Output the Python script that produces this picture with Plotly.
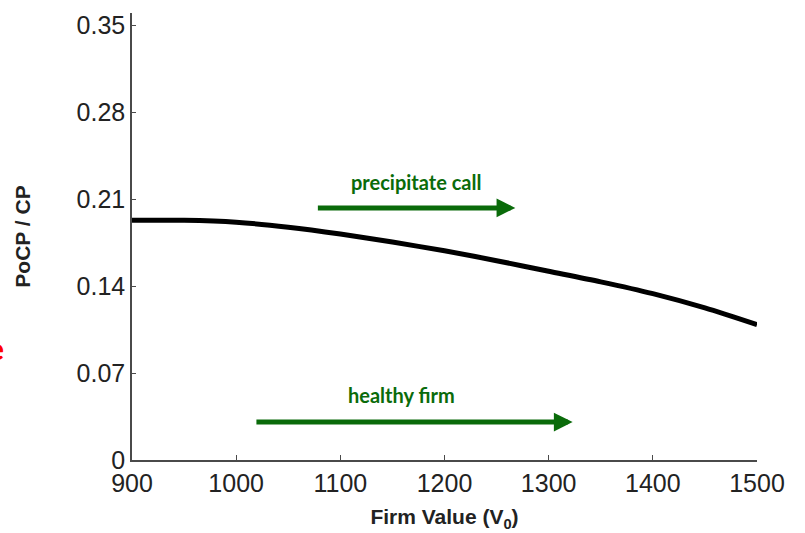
import plotly.graph_objects as go

# Data
firm_value = [900, 950, 1000, 1050, 1100, 1150, 1200, 1250, 1300, 1350, 1400, 1450, 1500]
pocp_ratio = [0.193, 0.193, 0.1915, 0.1875, 0.182, 0.1755, 0.1685, 0.1605, 0.152, 0.1435, 0.134, 0.1225, 0.109]

x_ticks = [900, 1000, 1100, 1200, 1300, 1400, 1500]
y_tick_vals = [0, 0.07, 0.14, 0.21, 0.28, 0.35]
y_tick_text = ["0", "0.07", "0.14", "0.21", "0.28", "0.35"]

GREEN = "#0a6b0a"
AXIS = "#4a4a4a"

fig = go.Figure()
fig.add_trace(go.Scatter(
    x=firm_value, y=pocp_ratio, mode="lines",
    line=dict(color="black", width=5, shape="spline", smoothing=0.8),
    showlegend=False, hoverinfo="skip",
))

annotations = [
    # precipitate call arrow
    dict(x=1268, y=0.203, ax=1077, ay=0.203, xref="x", yref="y", axref="x", ayref="y",
         text="", showarrow=True, arrowhead=2, arrowsize=0.75, arrowwidth=5, arrowcolor=GREEN),
    dict(x=1173, y=0.224, xref="x", yref="y", text="<b>precipitate call</b>", showarrow=False,
         font=dict(family="Lato", size=20, color=GREEN)),
    # healthy firm arrow
    dict(x=1323, y=0.0306, ax=1018, ay=0.0306, xref="x", yref="y", axref="x", ayref="y",
         text="", showarrow=True, arrowhead=2, arrowsize=0.75, arrowwidth=5, arrowcolor=GREEN),
    dict(x=1159, y=0.0525, xref="x", yref="y", text="<b>healthy firm</b>", showarrow=False,
         font=dict(family="Lato", size=20, color=GREEN)),
    # cut-off red letter at the left edge
    dict(x=-0.2, y=0.09, xref="paper", yref="y", xanchor="right", yanchor="middle", xshift=-1,
         text="<b>e</b>", showarrow=False, font=dict(family="Lato", size=30, color="#ff0000")),
]

fig.update_layout(
    width=805, height=533,
    margin=dict(l=132, r=48, t=13, b=73),
    paper_bgcolor="white", plot_bgcolor="white",
    annotations=annotations,
    font=dict(family="Liberation Sans, Arial, sans-serif", color="#222"),
    xaxis=dict(
        range=[900, 1500], tickvals=x_ticks, automargin=False,
        showline=True, linecolor=AXIS, linewidth=1.5,
        ticks="inside", ticklen=5, tickcolor=AXIS, tickwidth=1,
        showgrid=False, zeroline=False,
        tickfont=dict(size=25, color="#222"),
        title=dict(text="<b>Firm Value (V<sub>0</sub>)</b>", font=dict(size=21, color="#222"), standoff=14),
    ),
    yaxis=dict(
        range=[0, 0.36], tickvals=y_tick_vals, ticktext=y_tick_text, automargin=False,
        showline=True, linecolor=AXIS, linewidth=1.5,
        ticks="inside", ticklen=4, tickcolor=AXIS, tickwidth=1,
        showgrid=False, zeroline=False,
        tickfont=dict(size=25, color="#222"),
        title=dict(text="<b>PoCP / CP</b>", font=dict(size=21, color="#222"), standoff=40),
    ),
)

fig.write_html("out.html", config={"displayModeBar": False},
               post_script="document.body.style.margin='0px';")
